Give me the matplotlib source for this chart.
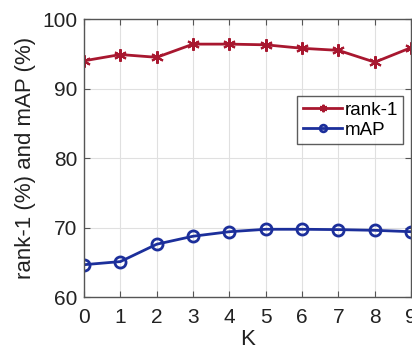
import numpy as np
import matplotlib.pyplot as plt

plt.rcParams["font.family"] = ["Liberation Sans", "DejaVu Sans"]

K = [0, 1, 2, 3, 4, 5, 6, 7, 8, 9]
rank1 = [94.0, 94.9, 94.5, 96.4, 96.4, 96.3, 95.8, 95.5, 93.8, 95.9]
mAP = [64.65, 65.1, 67.6, 68.75, 69.4, 69.75, 69.75, 69.7, 69.6, 69.4]

red = "#a8172f"
blue = "#1c2f9b"

fig = plt.figure(figsize=(4.12, 3.5), dpi=100)
ax = fig.add_axes([0.204, 0.1514, 0.794, 0.794])

ax.plot(K, rank1, color=red, linewidth=2, marker=(6, 2, 0), markersize=9,
        markeredgewidth=1.5, label="rank-1")
ax.plot(K, mAP, color=blue, linewidth=2, marker="o", markersize=8,
        markerfacecolor="none", markeredgewidth=2, label="mAP")

ax.set_xlim(0, 9)
ax.set_ylim(60, 100)
ax.set_xticks(K)
ax.set_yticks([60, 70, 80, 90, 100])
ax.grid(True, color="#e0e0e0", linewidth=0.8)
ax.set_axisbelow(True)

for s in ax.spines.values():
    s.set_color("#555555")
    s.set_linewidth(1.0)
ax.tick_params(direction="in", top=True, right=True, labelsize=15,
               color="#555555", length=4, labelcolor="#222222")
ax.tick_params(axis="x", pad=8)
ax.tick_params(axis="y", pad=5)

ax.set_xlabel("K", fontsize=16, labelpad=1.5, color="#222222")
ax.set_ylabel("rank-1 (%) and mAP (%)", fontsize=16, labelpad=4, color="#222222")

leg = ax.legend(loc="upper right", bbox_to_anchor=(0.976, 0.723), fontsize=13.5,
                frameon=True, fancybox=False, edgecolor="#333333",
                handlelength=2.1, handletextpad=0.1, borderpad=0.3,
                labelspacing=0.15, borderaxespad=0, markerscale=0.6)
leg.get_frame().set_linewidth(1.0)

fig.savefig("out.png", dpi=100)
